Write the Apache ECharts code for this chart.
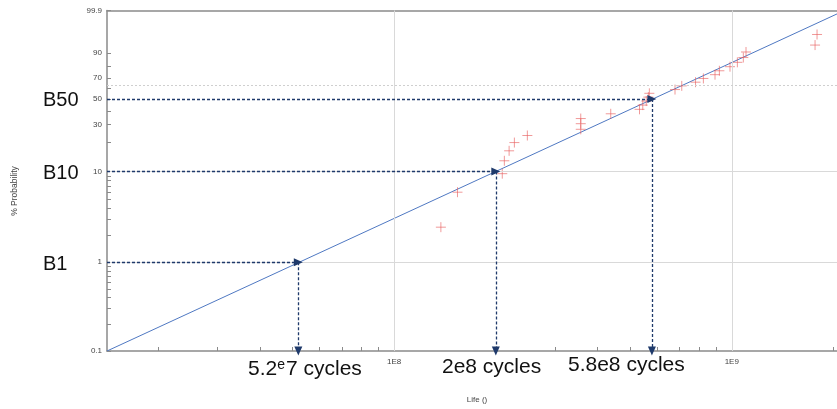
<!DOCTYPE html>
<html>
<head>
<meta charset="utf-8">
<script src="https://cdn.jsdelivr.net/npm/echarts@6/dist/echarts.min.js"></script>
<style>
  html, body { margin: 0; padding: 0; background: #fff; }
  #chart { width: 837px; height: 409px; }
</style>
</head>
<body>
<div id="chart"></div>
<script>
// Failure times (cycles) and their median-rank unreliability (%)
const lifeCycles = [1.375e8, 1.54e8, 2.09e8, 2.12e8, 2.19e8, 2.27e8, 2.48e8,
  3.57e8, 3.57e8, 3.57e8, 4.38e8, 5.33e8, 5.45e8, 5.58e8, 5.66e8, 5.70e8,
  6.79e8, 7.11e8, 7.81e8, 8.24e8, 8.92e8, 9.19e8, 9.88e8, 1.039e9, 1.082e9,
  1.102e9, 1.765e9, 1.789e9];
const probability = [2.46, 5.99, 9.51, 13.03, 16.55, 20.07, 23.59,
  27.11, 30.63, 34.15, 37.68, 41.20, 44.72, 48.24, 51.76, 55.28,
  58.80, 62.32, 65.85, 69.37, 72.89, 76.41, 79.93, 83.45, 86.97,
  90.49, 94.01, 97.54];

// Fitted Weibull line, end points across the plot
const fitLife = [1.41e7, 2.05e9];
const fitProb = [0.1, 99.82];

// B-life readings
const bNames = ['B1', 'B10', 'B50'];
const bProb = [1, 10, 50];
const bLife = [5.2e7, 2e8, 5.8e8];

// Axis ranges and ticks
const xRange = [1.41e7, 2.05e9];
const yRange = [0.1, 99.9];
const xLabelValues = [1e8, 1e9];
const xLabelText = ['1E8', '1E9'];
const xTickValues = [2e7, 3e7, 4e7, 5e7, 6e7, 7e7, 8e7, 9e7, 1e8,
  2e8, 3e8, 4e8, 5e8, 6e8, 7e8, 8e8, 9e8, 1e9, 2e9];
const yLabelValues = [0.1, 1, 10, 30, 50, 70, 90, 99.9];
const yTickValues = [0.1, 0.2, 0.3, 0.4, 0.5, 0.6, 0.7, 0.8, 0.9, 1,
  2, 3, 4, 5, 6, 7, 8, 9, 10, 20, 30, 40, 50, 60, 70, 80, 90, 99.9];
const xGridValues = [1e8, 1e9];
const yGridValues = [1, 10];
const characteristicLife = 63.2;

// Weibull probability paper: log10 on x, ln(-ln(1-F)) on y
const lg = v => Math.log10(v);
const wb = p => Math.log(-Math.log(1 - p / 100));
const wbInv = w => 100 * (1 - Math.exp(-Math.exp(w)));

const FONT = '"Liberation Sans", Arial, sans-serif';
const AXIS_COLOR = '#8a8a8a';
const GRID_COLOR = '#d9d9d9';
const ARROW_COLOR = '#1f3a6b';

const points = lifeCycles.map((x, i) => [lg(x), wb(probability[i])]);
const fitLine = fitLife.map((x, i) => [lg(x), wb(fitProb[i])]);

const xMin = lg(xRange[0]), xMax = lg(xRange[1]);
const yMin = wb(yRange[0]), yMax = wb(yRange[1]);

const gridLines = [];
xGridValues.forEach(v => gridLines.push({ xAxis: lg(v), lineStyle: { color: GRID_COLOR, type: 'solid', width: 1 } }));
yGridValues.forEach(v => gridLines.push({ yAxis: wb(v), lineStyle: { color: GRID_COLOR, type: 'solid', width: 1 } }));
gridLines.push({ yAxis: wb(characteristicLife), lineStyle: { color: '#cfcfcf', type: [2, 2], width: 1 } });

const arrowLines = [];
bLife.forEach((life, i) => {
  const x = lg(life), y = wb(bProb[i]);
  arrowLines.push([{ coord: [xMin, y] }, { coord: [x, y] }]);
  arrowLines.push([{ coord: [x, y] }, { coord: [x, yMin] }]);
});

const nearest = (v, list) => list.reduce((a, b) => Math.abs(b - v) < Math.abs(a - v) ? b : a);

const chart = echarts.init(document.getElementById('chart'));
chart.setOption({
  animation: false,
  backgroundColor: '#ffffff',
  grid: { left: 107, right: 0, top: 10.5, bottom: 55.5, containLabel: false },
  xAxis: [{
    type: 'value', min: xMin, max: xMax,
    axisLine: { show: true, onZero: false, lineStyle: { color: AXIS_COLOR, width: 1.5 } },
    axisTick: { show: true, inside: true, length: 4, lineStyle: { color: AXIS_COLOR, width: 1 },
      customValues: xTickValues.map(lg) },
    axisLabel: { show: true, margin: 7, fontSize: 8, color: '#444', fontFamily: FONT,
      customValues: xLabelValues.map(lg),
      formatter: v => xLabelText[xLabelValues.indexOf(nearest(Math.pow(10, v), xLabelValues))] },
    splitLine: { show: false },
    name: 'Life ()', nameLocation: 'middle', nameGap: 45,
    nameTextStyle: { fontSize: 8, color: '#444', fontFamily: FONT, padding: [0, 0, 0, 10] }
  }, {
    type: 'value', position: 'top', min: xMin, max: xMax,
    axisLine: { show: true, onZero: false, lineStyle: { color: AXIS_COLOR, width: 1.5 } },
    axisTick: { show: false }, axisLabel: { show: false }, splitLine: { show: false }
  }],
  yAxis: {
    type: 'value', min: yMin, max: yMax,
    axisLine: { show: true, onZero: false, lineStyle: { color: AXIS_COLOR, width: 1.5 } },
    axisTick: { show: true, inside: true, length: 4, lineStyle: { color: AXIS_COLOR, width: 1 },
      customValues: yTickValues.map(wb) },
    axisLabel: { show: true, margin: 5, fontSize: 8, color: '#444', fontFamily: FONT,
      customValues: yLabelValues.map(wb),
      formatter: v => String(nearest(wbInv(v), yLabelValues)) },
    splitLine: { show: false }
  },
  series: [
    {
      type: 'line', data: [], silent: true, z: 1,
      markLine: { silent: true, symbol: ['none', 'none'], label: { show: false }, data: gridLines }
    },
    {
      type: 'line', data: fitLine, showSymbol: false, symbol: 'none', z: 3,
      lineStyle: { color: '#4f78c2', width: 1 }
    },
    {
      type: 'scatter', data: points, z: 4,
      symbol: 'path://M0,5 L10,5 M5,0 L5,10', symbolSize: 10,
      itemStyle: { color: 'none', borderColor: 'rgba(232,96,96,0.8)', borderWidth: 1 }
    },
    {
      type: 'line', data: [], silent: true, z: 5,
      markLine: {
        silent: true, symbol: ['none', 'triangle'], symbolSize: [8, 9],
        label: { show: false },
        lineStyle: { color: ARROW_COLOR, type: [3, 2], width: 1.3 },
        itemStyle: { color: ARROW_COLOR },
        data: arrowLines
      }
    }
  ],
  graphic: [
    { type: 'text', style: { text: bNames[2], x: 43, y: 100, verticalAlign: 'middle', font: '20px ' + FONT, fill: '#111' } },
    { type: 'text', style: { text: bNames[1], x: 43, y: 173, verticalAlign: 'middle', font: '20px ' + FONT, fill: '#111' } },
    { type: 'text', style: { text: bNames[0], x: 43, y: 264, verticalAlign: 'middle', font: '20px ' + FONT, fill: '#111' } },
    { type: 'text', style: {
        text: '{a|5.2}{s|e}{a|7 cycles}', x: 248, y: 369, verticalAlign: 'middle',
        rich: {
          a: { fontSize: 21, fontFamily: FONT, fill: '#111', color: '#111' },
          s: { fontSize: 14, fontFamily: FONT, fill: '#111', color: '#111', verticalAlign: 'top', padding: [0, 1, 6, 0] }
        } } },
    { type: 'text', style: { text: '2e8 cycles', x: 442, y: 367.5, verticalAlign: 'middle', font: '21px ' + FONT, fill: '#111' } },
    { type: 'text', style: { text: '5.8e8 cycles', x: 568, y: 365.5, verticalAlign: 'middle', font: '21px ' + FONT, fill: '#111' } },
    { type: 'text', rotation: Math.PI / 2, x: 15, y: 191, style: {
        text: '% Probability', x: 0, y: 0, align: 'center', verticalAlign: 'middle',
        font: '8.5px ' + FONT, fill: '#444' } }
  ]
});
</script>
</body>
</html>
